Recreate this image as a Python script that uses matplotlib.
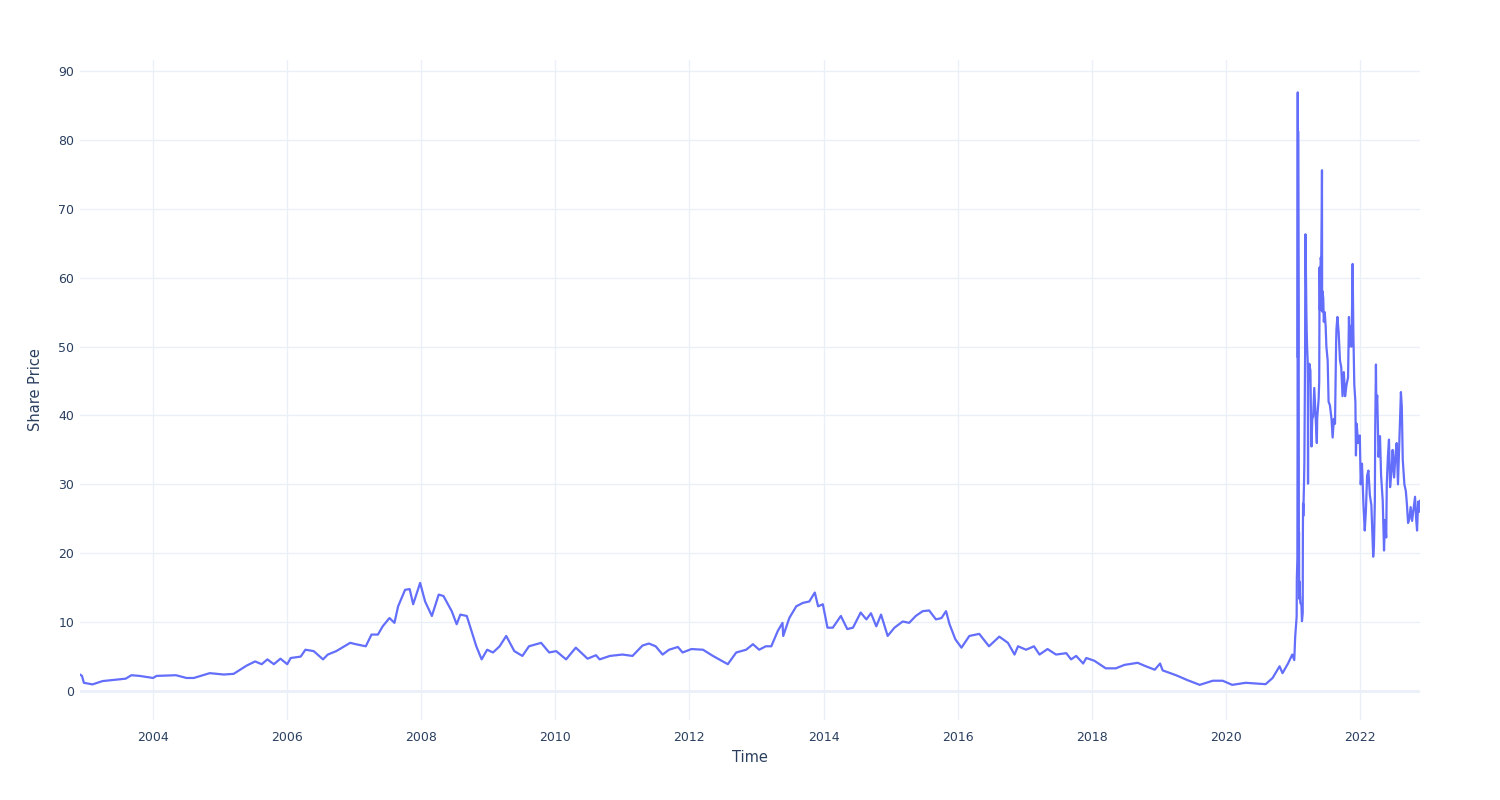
import pandas as pd
import matplotlib.pyplot as plt
import matplotlib.dates as mdates

# Share price readings (split adjusted)
dates = [
    "2002-11-29", "2002-12-10", "2002-12-20", "2003-02-05", "2003-04-01", "2003-08-05",
    "2003-09-05", "2003-10-20", "2004-01-01", "2004-01-20", "2004-05-05", "2004-07-01",
    "2004-08-10", "2004-11-05", "2005-01-20", "2005-03-15", "2005-05-25", "2005-07-10",
    "2005-08-15", "2005-09-15", "2005-10-20", "2005-11-25", "2006-01-01", "2006-01-20",
    "2006-03-15", "2006-04-10", "2006-05-25", "2006-07-15", "2006-08-10", "2006-09-25",
    "2006-12-10", "2007-01-10", "2007-03-05", "2007-04-05", "2007-05-10", "2007-06-05",
    "2007-07-12", "2007-08-08", "2007-08-28", "2007-10-05", "2007-10-30", "2007-11-18",
    "2007-12-26", "2008-01-22", "2008-02-28", "2008-04-05", "2008-05-01", "2008-06-15",
    "2008-07-12", "2008-08-01", "2008-09-05", "2008-10-01", "2008-10-27", "2008-11-25",
    "2008-12-25", "2009-01-26", "2009-03-03", "2009-04-08", "2009-05-22", "2009-07-05",
    "2009-08-10", "2009-10-15", "2009-11-28", "2010-01-05", "2010-02-28", "2010-04-22",
    "2010-06-25", "2010-08-10", "2010-08-30", "2010-10-25", "2011-01-01", "2011-02-25",
    "2011-04-20", "2011-05-25", "2011-07-01", "2011-08-08", "2011-09-12", "2011-10-30",
    "2011-11-25", "2012-01-12", "2012-03-15", "2012-05-08", "2012-07-28", "2012-09-12",
    "2012-11-05", "2012-12-12", "2013-01-15", "2013-02-20", "2013-03-22", "2013-04-26",
    "2013-05-22", "2013-05-26", "2013-06-28", "2013-08-05", "2013-09-10", "2013-10-15",
    "2013-11-14", "2013-12-02", "2013-12-28", "2014-01-22", "2014-02-20", "2014-04-05",
    "2014-05-10", "2014-06-10", "2014-07-22", "2014-08-22", "2014-09-16", "2014-10-15",
    "2014-11-10", "2014-12-16", "2015-01-22", "2015-03-08", "2015-04-12", "2015-05-18",
    "2015-06-25", "2015-07-30", "2015-09-05", "2015-10-05", "2015-10-30", "2015-11-18",
    "2015-12-20", "2016-01-22", "2016-03-05", "2016-04-28", "2016-06-20", "2016-08-15",
    "2016-10-01", "2016-11-06", "2016-11-25", "2017-01-08", "2017-02-20", "2017-03-22",
    "2017-05-05", "2017-06-20", "2017-08-15", "2017-09-10", "2017-10-08", "2017-11-15",
    "2017-12-02", "2018-01-15", "2018-03-18", "2018-05-12", "2018-06-28", "2018-09-08",
    "2018-10-22", "2018-12-10", "2019-01-08", "2019-01-22", "2019-04-05", "2019-06-05",
    "2019-08-12", "2019-10-22", "2019-12-15", "2020-02-05", "2020-04-18", "2020-08-05",
    "2020-09-12", "2020-10-20", "2020-11-05", "2020-12-05", "2020-12-28", "2021-01-08",
    "2021-01-13", "2021-01-21", "2021-01-22", "2021-01-25", "2021-01-26", "2021-01-27",
    "2021-01-28", "2021-01-29", "2021-02-01", "2021-02-02", "2021-02-03", "2021-02-04",
    "2021-02-05", "2021-02-10", "2021-02-16", "2021-02-19", "2021-02-23", "2021-02-24",
    "2021-02-25", "2021-02-26", "2021-03-02", "2021-03-04", "2021-03-08", "2021-03-09",
    "2021-03-10", "2021-03-11", "2021-03-15", "2021-03-17", "2021-03-19", "2021-03-22",
    "2021-03-23", "2021-03-24", "2021-03-25", "2021-03-29", "2021-03-31", "2021-04-06",
    "2021-04-09", "2021-04-12", "2021-04-16", "2021-04-21", "2021-04-27", "2021-05-04",
    "2021-05-11", "2021-05-13", "2021-05-21", "2021-05-24", "2021-05-25", "2021-05-26",
    "2021-05-28", "2021-06-01", "2021-06-04", "2021-06-07", "2021-06-08", "2021-06-09",
    "2021-06-11", "2021-06-15", "2021-06-18", "2021-06-23", "2021-06-28", "2021-07-02",
    "2021-07-09", "2021-07-14", "2021-07-21", "2021-07-30", "2021-08-05", "2021-08-12",
    "2021-08-18", "2021-08-24", "2021-08-26", "2021-08-31", "2021-09-07", "2021-09-14",
    "2021-09-21", "2021-09-28", "2021-10-05", "2021-10-12", "2021-10-20", "2021-10-28",
    "2021-11-02", "2021-11-05", "2021-11-10", "2021-11-16", "2021-11-22", "2021-11-26",
    "2021-12-01", "2021-12-07", "2021-12-10", "2021-12-14", "2021-12-22", "2021-12-31",
    "2022-01-05", "2022-01-12", "2022-01-20", "2022-01-27", "2022-02-02", "2022-02-09",
    "2022-02-16", "2022-02-24", "2022-03-04", "2022-03-08", "2022-03-14", "2022-03-18",
    "2022-03-23", "2022-03-25", "2022-03-29", "2022-03-31", "2022-04-05", "2022-04-12",
    "2022-04-20", "2022-04-26", "2022-05-05", "2022-05-12", "2022-05-17", "2022-05-24",
    "2022-05-27", "2022-06-02", "2022-06-08", "2022-06-14", "2022-06-22", "2022-06-28",
    "2022-07-06", "2022-07-13", "2022-07-20", "2022-07-27", "2022-08-03", "2022-08-09",
    "2022-08-12", "2022-08-17", "2022-08-22", "2022-08-31", "2022-09-08", "2022-09-14",
    "2022-09-20", "2022-09-27", "2022-10-04", "2022-10-12", "2022-10-20", "2022-10-28",
    "2022-11-03", "2022-11-08", "2022-11-14", "2022-11-18", "2022-11-24",
]
prices = [
    2.4, 2.2, 1.2, 0.97, 1.45, 1.8,
    2.3, 2.2, 1.9, 2.2, 2.3, 1.9,
    1.9, 2.6, 2.4, 2.5, 3.7, 4.3,
    3.9, 4.6, 3.9, 4.7, 3.9, 4.8,
    5.0, 6.0, 5.8, 4.6, 5.3, 5.8,
    7.0, 6.8, 6.5, 8.2, 8.2, 9.4,
    10.6, 9.9, 12.3, 14.7, 14.8, 12.6,
    15.7, 13.0, 10.9, 14.0, 13.8, 11.6,
    9.7, 11.1, 10.9, 8.7, 6.5, 4.6,
    6.0, 5.6, 6.5, 8.0, 5.8, 5.1,
    6.5, 7.0, 5.6, 5.8, 4.6, 6.3,
    4.7, 5.2, 4.6, 5.1, 5.3, 5.1,
    6.6, 6.9, 6.5, 5.3, 6.0, 6.4,
    5.6, 6.1, 6.0, 5.1, 3.9, 5.6,
    6.0, 6.8, 6.0, 6.5, 6.5, 8.7,
    9.9, 8.0, 10.6, 12.3, 12.8, 13.0,
    14.3, 12.3, 12.6, 9.2, 9.2, 10.9,
    9.0, 9.2, 11.4, 10.4, 11.3, 9.4,
    11.1, 8.0, 9.2, 10.1, 9.9, 10.9,
    11.6, 11.7, 10.4, 10.6, 11.6, 9.7,
    7.5, 6.3, 8.0, 8.3, 6.5, 7.9,
    7.0, 5.3, 6.5, 6.0, 6.5, 5.3,
    6.1, 5.3, 5.5, 4.6, 5.1, 4.0,
    4.8, 4.4, 3.3, 3.3, 3.8, 4.1,
    3.6, 3.1, 4.0, 3.0, 2.3, 1.6,
    0.9, 1.5, 1.5, 0.9, 1.2, 1.0,
    1.9, 3.6, 2.6, 4.0, 5.3, 4.5,
    7.85, 10.8, 16.25, 19.2, 37.0, 86.9,
    48.4, 81.25, 56.25, 22.5, 23.0, 13.4,
    15.9, 12.8, 12.5, 10.15, 11.3, 22.9,
    27.2, 25.4, 30.0, 33.0, 48.9, 61.5,
    66.3, 65.0, 55.0, 52.0, 50.0, 48.0,
    45.0, 30.1, 45.5, 45.0, 47.5, 46.5,
    40.0, 35.5, 39.5, 39.9, 44.0, 40.1,
    36.0, 39.6, 42.5, 45.0, 52.5, 61.5,
    55.3, 62.9, 62.4, 70.3, 75.6, 55.1,
    58.0, 57.0, 53.6, 55.0, 53.0, 50.0,
    48.0, 42.0, 41.5, 39.5, 36.8, 39.5,
    38.8, 50.6, 52.6, 54.3, 52.0, 48.0,
    47.0, 42.8, 46.3, 42.8, 44.5, 45.5,
    54.3, 50.0, 53.0, 50.0, 62.0, 52.0,
    44.5, 42.0, 34.2, 38.8, 36.0, 37.1,
    30.0, 33.0, 27.0, 23.3, 26.0, 31.3,
    32.0, 28.4, 27.0, 24.0, 19.5, 21.0,
    27.6, 38.0, 47.4, 41.6, 42.9, 34.0,
    37.0, 31.3, 27.6, 20.4, 24.8, 22.3,
    30.0, 34.0, 36.5, 29.6, 32.0, 35.0,
    31.0, 34.2, 36.0, 30.0, 36.0, 41.0,
    43.4, 41.2, 33.6, 30.0, 29.0, 27.0,
    24.4, 25.0, 26.7, 24.7, 26.5, 28.2,
    25.0, 23.3, 27.5, 26.0, 27.6,
]
y_ticks = [0, 10, 20, 30, 40, 50, 60, 70, 80, 90]
x_tick_years = [2004, 2006, 2008, 2010, 2012, 2014, 2016, 2018, 2020, 2022]

df = pd.DataFrame({'Date': pd.to_datetime(dates), 'Close': prices})

grid_color = '#EBF0F8'
text_color = '#2a3f5f'

fig = plt.figure(figsize=(15, 8), dpi=100)
# plot area in pixels: left 80, right 1420, top 60, bottom 720
ax = fig.add_axes([80 / 1500, 80 / 800, 1340 / 1500, 660 / 800])

ax.plot(df['Date'], df['Close'], color='#636EFA', linewidth=1.6, zorder=3)

ax.set_xlim(df['Date'].iloc[0], df['Date'].iloc[-1])
ax.set_ylim(-4.2, 91.6)

ax.set_yticks(y_ticks)
ax.set_xticks([pd.Timestamp(f'{yr}-01-01') for yr in x_tick_years])
ax.xaxis.set_major_formatter(mdates.DateFormatter('%Y'))

ax.grid(True, color=grid_color, linewidth=1, zorder=0)
ax.axhline(0, color=grid_color, linewidth=2, zorder=1)
for s in ax.spines.values():
    s.set_visible(False)

ax.tick_params(axis='both', length=0, labelsize=9, colors=text_color)
ax.tick_params(axis='x', pad=8)
ax.tick_params(axis='y', pad=4)

ax.set_xlabel('Time', fontsize=10.5, color=text_color, labelpad=4)
ax.set_ylabel('Share Price', fontsize=10.5, color=text_color, labelpad=11)

plt.savefig('out.png', dpi=100, facecolor='white')
